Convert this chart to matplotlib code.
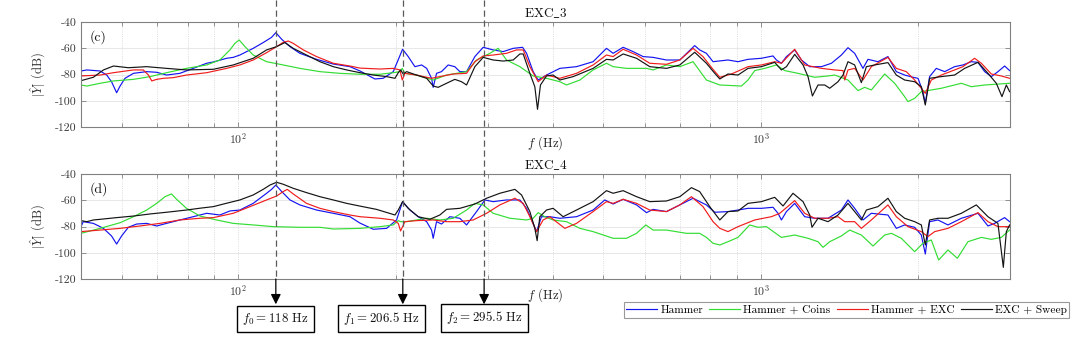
import matplotlib
matplotlib.use("Agg")
import matplotlib.pyplot as plt
from matplotlib.lines import Line2D
from matplotlib.ticker import FixedLocator, NullFormatter

plt.rcParams['font.family'] = ['cmr10', 'DejaVu Serif']
plt.rcParams['mathtext.fontset'] = 'cm'
plt.rcParams['axes.formatter.use_mathtext'] = True
plt.rcParams['axes.unicode_minus'] = False

# ---------------- data ----------------
series_labels = ['Hammer', 'Hammer + Coins', 'Hammer + EXC', 'EXC + Sweep']
panel_titles = [r'$\mathrm{EXC\_3}$', r'$\mathrm{EXC\_4}$']
panel_tags = ['(c)', '(d)']
mode_freqs = [118, 206.5, 295.5]
mode_labels = [r'$f_0 = 118$ Hz', r'$f_1 = 206.5$ Hz', r'$f_2 = 295.5$ Hz']
ytick_vals = [-120, -100, -80, -60, -40]
ytick_labels = ['-120', '-100', '-80', '-60', '-40']
xtick_vals = [100, 1000]
xtick_labels = [r'$10^2$', r'$10^3$']
xminor_vals = [50, 60, 70, 80, 90, 200, 300, 400, 500, 600, 700, 800, 900, 2000, 3000]

# Panel (c) EXC_3
c_hammer_f = [50, 51.3, 54.4, 56, 57.2, 58.5, 59.4, 60.7, 63, 66.8,
              69.8, 72.9, 77.3, 82, 87, 89.6, 95, 97.8, 100.7, 106.8,
              111.6, 115.8, 118, 121.1, 125.6, 131.2, 141.2, 152, 163.6, 171,
              182.6, 189.4, 198, 206.3, 211.5, 217.8, 224.4, 229.4, 234.4, 236.1,
              239.6, 244.9, 252.2, 259.7, 265.5, 273.5, 283.7, 294.3, 307.5, 321.4,
              335.9, 350.1, 356.3, 366.8, 375, 389, 412.6, 444, 477.7, 506.7,
              521.8, 545.3, 569.8, 595.5, 622.3, 660, 700, 747.5, 764, 787,
              810.5, 865.6, 904.8, 945.5, 1003, 1055.6, 1071.5, 1095.4, 1120, 1161.5,
              1196.4, 1241, 1306.7, 1365.6, 1427, 1469, 1512.8, 1569.3, 1604.3, 1676.5,
              1751.9, 1817.9, 1885.7, 1956, 2000, 2044, 2065, 2105, 2168, 2249,
              2350, 2438, 2529, 2605, 2683, 2763, 2845, 2930, 2995]
c_hammer_db = [-77.2, -76.4, -77.2, -80.3, -85.4, -93.8, -88.7, -82.8, -79, -77.7,
               -78.2, -80.3, -79, -75.2, -71.3, -70.3, -67.5, -66.8, -65, -59.9,
               -55.5, -51.5, -47.9, -53, -58.6, -63.7, -68.3, -71.9, -73.9, -77.2,
               -83.3, -82.8, -77.7, -60.6, -66.2, -73.9, -72.6, -75.2, -82.8, -89.7,
               -79, -77.7, -72.6, -73.9, -77.7, -77.7, -66.2, -59.1, -61.1, -62.4,
               -59.9, -59.1, -63.7, -77.7, -84.1, -80.3, -75.2, -73.9, -70.1, -59.9,
               -63.7, -59.1, -62.4, -66.2, -66.8, -68.8, -68.8, -57.8, -61.1, -63.7,
               -70.1, -68.8, -70.1, -68.3, -67.5, -65.7, -68.8, -71.3, -66.2, -61.1,
               -68.8, -73.9, -73.9, -71.3, -65, -59.4, -63.7, -75.2, -68.3, -70.1,
               -66.2, -77.7, -80.3, -82, -82.8, -93, -101.9, -81.5, -75.2, -77.7,
               -73.9, -72.6, -70.1, -70.6, -77.7, -81.5, -77.7, -73.4, -76.9]

c_coins_f = [50, 51.3, 54.4, 57.7, 63, 67.8, 72.9, 79.6, 87, 92.2,
             96.4, 98.5, 100.4, 103, 106.8, 113.3, 121.9, 131.2, 143.3, 156.5,
             171, 186.7, 198, 203.9, 206, 208.4, 219.4, 236.1, 250.4, 273.5,
             285.8, 303.1, 314.4, 326.2, 345.9, 366.8, 389, 412.6, 424.9, 450.6,
             477.7, 506.7, 521.8, 553.5, 604.4, 622.3, 660, 700, 742.1, 787,
             835, 918.4, 945.5, 973.9, 1017.9, 1071.5, 1111.7, 1178.6, 1268.6, 1345.3,
             1385.5, 1469, 1535.5, 1581.3, 1628.3, 1726.8, 1804.6, 1885.7, 1913.4, 1970.6,
             2029.5, 2120.8, 2216.4, 2421.1, 2529.4, 2682.8, 2995]
c_coins_db = [-87.9, -88.7, -86.6, -84.8, -83.6, -81.5, -78.5, -75.2, -72.6, -68.8,
              -61.1, -56.1, -53.5, -58.6, -65, -70.1, -72.6, -75.2, -77.7, -79,
              -79.7, -79.7, -78.5, -77.7, -75.2, -79, -80.3, -84.1, -80.3, -77.7,
              -68.8, -63.7, -59.9, -68.8, -73.9, -81, -82.8, -85.4, -87.9, -84.1,
              -76.4, -71.3, -73.9, -75.2, -75.2, -76.4, -72.6, -73.9, -70.1, -84.1,
              -87.9, -88.7, -84.1, -76.9, -75.2, -72.6, -76.9, -79, -82, -81,
              -80.3, -84.1, -92.2, -89.7, -91.7, -79.5, -86.6, -96.8, -100.6, -98.1,
              -93, -91.7, -90.4, -86.6, -89.2, -87.9, -86.6]

c_exc_f = [50, 54.4, 57.7, 63, 65.8, 67.3, 68.3, 69.8, 71.9, 75.1,
           79.6, 87, 95, 100.7, 106.8, 113.3, 118.4, 121.9, 124.7, 127.4,
           133.2, 141.2, 152, 163.6, 171, 186.7, 198, 203.9, 206, 208.4,
           219.4, 234.4, 243.1, 257.8, 273.5, 283.7, 294.3, 307.5, 326.2, 340.9,
           351, 361.5, 375, 389, 412.6, 444, 477.7, 506.7, 521.8, 545.3,
           578.5, 613.2, 660, 700, 742.1, 775.3, 810.5, 835, 879, 945.5,
           1003, 1063.6, 1095.4, 1161.5, 1213.9, 1306.7, 1385.5, 1437.2, 1448, 1469,
           1512.8, 1569.3, 1628.3, 1751.9, 1817.9, 1899.6, 1970.6, 2065.4, 2120.8, 2216.4,
           2350, 2437.8, 2566.9, 2643.8, 2763, 2887.6, 2995]
c_exc_db = [-81, -80.3, -78.5, -76.4, -76.4, -80.3, -84.8, -83.6, -82.8, -82.3,
            -80.3, -78.5, -75.2, -72.6, -68.8, -63.2, -58.6, -55.3, -54.3, -56.1,
            -61.1, -66.2, -71.3, -73.4, -75, -75.7, -75.2, -76.4, -84.1, -79,
            -80.3, -82.8, -81.5, -79.5, -79, -70.1, -65.7, -65, -63.7, -61.1,
            -61.1, -73.9, -85.4, -80.3, -82.8, -79, -72.6, -65, -66.2, -60.6,
            -65, -71.3, -72.1, -68.8, -59.9, -66.2, -76, -82, -79.5, -73.9,
            -72.6, -70.1, -71.3, -60.6, -72.6, -75.2, -76.4, -76.9, -84.1, -76.4,
            -75.2, -84.1, -73.9, -66.8, -75.2, -77.7, -84.1, -94.3, -84.1, -80.3,
            -76.4, -73.9, -67.5, -71.3, -79.5, -81, -82.8]

c_sweep_f = [50, 52.8, 55.2, 57.7, 61.6, 66.8, 72.9, 79.6, 89.6, 97.8,
             106.8, 113.3, 118.4, 122.8, 127.4, 135.1, 143.3, 152, 161.2, 171,
             181.3, 192.3, 199.5, 202.4, 204.5, 206.9, 210, 219.4, 229.4, 236.1,
             241.3, 250.4, 259.7, 267.5, 273.5, 283.7, 294.3, 307.5, 321.4, 335.9,
             345.9, 351, 361.5, 369.5, 373.9, 378.8, 389, 400.5, 412.6, 437.5,
             477.7, 506.7, 521.8, 545.3, 578.5, 613.2, 660, 700, 747.5, 787,
             816.6, 835, 865.6, 904.8, 945.5, 1003, 1063.6, 1095.4, 1120, 1161.5,
             1205, 1231.7, 1255.8, 1287.2, 1325.7, 1355.3, 1405.8, 1437.2, 1469, 1512.8,
             1558.2, 1593, 1652.5, 1751.9, 1817.9, 1885.7, 1970.6, 2029.5, 2065.4, 2105,
             2216.4, 2350, 2456.5, 2605, 2722.4, 2824.4, 2895.6, 2952, 2995]
c_sweep_db = [-84.6, -82, -76.4, -73.4, -74.7, -73.9, -75.2, -76.4, -75.9, -72.6,
              -67.5, -61.1, -58.6, -55.5, -59.9, -65, -70.1, -73.9, -76.4, -78.5,
              -80.3, -81.5, -82.8, -78.5, -76.4, -79.5, -77.7, -80.3, -82.8, -88.7,
              -89.7, -86.6, -83.6, -85.4, -87.9, -73.9, -66.8, -68.8, -69.6, -68.8,
              -64.2, -64.2, -79, -89.2, -106.5, -87.9, -81, -80.3, -84.1, -81.5,
              -75.2, -68.3, -68.8, -64.2, -67.5, -73.9, -75.2, -72.6, -62.9, -71.3,
              -79, -83.3, -79.5, -80.3, -75.2, -73.9, -70.6, -76.4, -73.9, -64.5,
              -72.6, -81.5, -96.3, -87.9, -87.9, -90.4, -85.4, -80.3, -70.1, -72.6,
              -86.1, -73.9, -72.6, -70.8, -80.3, -84.1, -85.4, -89.2, -103.2, -82.8,
              -81.5, -80.3, -75.2, -70.6, -79, -86.6, -96.8, -87.9, -93]

# Panel (d) EXC_4
d_hammer_f = [50, 50.5, 52.8, 55.2, 57.2, 58.5, 59.8, 61.6, 63.9, 66.8,
              69.8, 72.9, 77.3, 82, 87, 92.2, 96.4, 100.7, 106.8, 113.3,
              115.8, 118, 121.1, 125.6, 131.2, 141.2, 152, 163.6, 171, 181.3,
              192.3, 200.9, 206.3, 213.1, 221, 229.4, 234.4, 236.1, 239.6, 244.9,
              254.1, 265.5, 273.5, 285.8, 296.5, 307.5, 326.2, 345.9, 356.3, 366.8,
              372.3, 380.5, 394.7, 412.6, 444, 477.7, 503, 521.8, 545.3, 578.5,
              604.4, 622.3, 660, 700, 742.1, 787, 816.6, 865.6, 904.8, 945.5,
              1003, 1055.6, 1079.2, 1095.4, 1120, 1161.5, 1213.9, 1268.6, 1345.3, 1427,
              1469, 1512.8, 1569.3, 1628.3, 1751.9, 1817.9, 1885.7, 1970.6, 2029.5, 2065.4,
              2105, 2183.8, 2282.3, 2421.1, 2605, 2722.4, 2803.6, 2929.5, 2995]
d_hammer_db = [-80, -76.2, -77.5, -81.3, -87.1, -93.3, -87.1, -80.5, -78, -77.5,
               -79.5, -77.5, -74.9, -72.4, -69.8, -71.1, -68, -67.3, -62.2, -54.5,
               -51.5, -48.2, -53.2, -59.6, -63.4, -67.3, -69.8, -72.4, -77.3, -82,
               -81.3, -74.9, -60.9, -67.3, -72.4, -76.2, -82.6, -88.9, -76.2, -78,
               -72.4, -73.6, -78.7, -68.5, -59.6, -60.9, -59.6, -59.6, -66, -77.5,
               -83.8, -72.4, -72.4, -73.6, -72.4, -67.3, -59.6, -62.7, -59.1, -63.4,
               -69.3, -66.8, -68.5, -63.4, -58.3, -63.4, -69, -68.5, -67.3, -66,
               -66, -65.2, -69.8, -74.9, -68.5, -62.2, -72.4, -73.6, -73.6, -67.3,
               -59.6, -66, -74.9, -69.8, -71.1, -81.3, -78.7, -80.5, -86.4, -100.9,
               -76.2, -74.9, -78.7, -73.6, -69.8, -79.5, -77.5, -73.1, -76.2]

d_coins_f = [50, 54.4, 59.4, 63, 66.8, 69.8, 72.4, 74.5, 76.2, 79.6,
             84.5, 90.9, 97.8, 106.8, 116.7, 131.2, 143.3, 152, 171, 186.7,
             198, 202.4, 204.5, 210, 229.4, 243.1, 257.8, 273.5, 283.7, 294.3,
             307.5, 331.1, 356.3, 366.8, 375, 386.1, 400.5, 424.9, 450.6, 477.7,
             521.8, 553.5, 578.5, 602.6, 622.3, 660, 720.7, 764, 787, 810.5,
             835, 865.6, 904.8, 952.5, 988, 1025.4, 1095.4, 1161.5, 1231.7, 1287.2,
             1316, 1355.3, 1427, 1480.2, 1558.2, 1640.3, 1726.8, 1778.3, 1858.5, 1970.6,
             2044.3, 2120.8, 2190.5, 2282.3, 2378.9, 2492.4, 2643.8, 2763, 2887.6, 2995]
d_coins_db = [-85.1, -81.3, -77, -72.4, -67.3, -62.2, -57.1, -55, -59.1, -66,
              -71.9, -74.9, -77.5, -78.7, -80, -80.5, -80.5, -81.8, -81.3, -80,
              -78.7, -75.4, -76.2, -76.2, -73.6, -74.9, -73.6, -67.3, -62.2, -63.4,
              -69.8, -73.6, -74.9, -73.6, -69.3, -72.4, -74.9, -76.2, -81.3, -83.8,
              -88.9, -88.9, -85.1, -78.7, -82.6, -82.6, -85.1, -85.1, -88.2, -92.7,
              -94, -91.5, -88.2, -78.7, -80.5, -80, -88.2, -86.4, -88.9, -91.5,
              -95.8, -91.5, -87.1, -82.6, -86.4, -94.8, -86.4, -85.1, -88.9, -99.1,
              -92.7, -90.2, -105.5, -97.8, -104.2, -91.5, -88.2, -89.7, -88.2, -82.6]

d_exc_f = [50, 54.4, 59.4, 64.8, 70.8, 77.3, 84.5, 89.6, 97.8, 105.3,
           113.3, 118.4, 121.9, 124.1, 127.4, 135.1, 143.3, 152, 163.6, 171,
           186.7, 198, 202.4, 204.5, 208.4, 219.4, 236.1, 250.4, 265.5, 281.6,
           298.7, 316.7, 338.4, 351, 361.5, 372.3, 383.2, 394.7, 421.7, 444,
           477.7, 506.7, 521.8, 545.3, 578.5, 613.2, 660, 700, 736.8, 775.3,
           810.5, 835, 865.6, 904.8, 973.9, 1048, 1087.5, 1161.5, 1213.9, 1268.6,
           1345.3, 1405.8, 1448, 1512.8, 1558.2, 1628.3, 1751.9, 1817.9, 1913.4, 2029.5,
           2089.3, 2152.3, 2282.3, 2421.1, 2605, 2722.4, 2844.5, 2995]
d_exc_db = [-83.8, -82.6, -81.3, -79.5, -77.5, -74.9, -73.6, -73.1, -69.8, -64.7,
            -59.6, -56.6, -53.2, -51.5, -55, -62.2, -66, -68.5, -71.1, -72.4,
            -73.6, -74.9, -77.5, -83.3, -76.2, -75.4, -74.9, -76.2, -76.2, -74.9,
            -69.8, -63.4, -58.3, -62.2, -72.4, -83.8, -74.9, -72.4, -81.3, -77.5,
            -68.5, -60.9, -62.2, -59.1, -62.2, -67.3, -68.5, -63.4, -57.1, -64.7,
            -76.2, -81.3, -83.8, -80, -74.9, -72.4, -69.8, -60.1, -69.8, -73.6,
            -73.6, -72.4, -76.2, -76.2, -81.3, -74.9, -63.4, -72.4, -80, -83.8,
            -87.6, -83.8, -81.3, -76.2, -69.3, -76.2, -80, -80]

d_sweep_f = [50, 51.3, 52.8, 54.4, 58.5, 63, 67.8, 72.9, 79.6, 84.5,
             89.6, 95, 100.7, 106.8, 111.6, 115, 118.4, 121.9, 127.4, 135.1,
             143.3, 152, 161.2, 171, 183.9, 199.5, 202.4, 206.3, 211.5, 221,
             232.6, 243.1, 250.4, 265.5, 283.7, 298.7, 316.7, 338.4, 348.5, 361.5,
             369.5, 373.3, 377.7, 389, 400.5, 418.6, 444, 477.7, 506.7, 521.8,
             545.3, 578.5, 613.2, 660, 700, 736.8, 764, 798.7, 816.6, 835,
             865.6, 904.8, 945.5, 1003, 1063.6, 1103.3, 1152.9, 1205, 1241, 1253.5,
             1287.2, 1345.3, 1405.8, 1469, 1512.8, 1558.2, 1593, 1676.5, 1751.9, 1817.9,
             1885.7, 1970.6, 2029.5, 2065.4, 2105, 2183.8, 2282.3, 2421.1, 2586, 2722.4,
             2844.5, 2913, 2952, 2995]
d_sweep_db = [-75.4, -76.2, -74.9, -74.4, -73.1, -71.9, -70.3, -69, -67.3, -65.9,
              -64.7, -62.1, -59.6, -55.8, -51.5, -48.2, -46.1, -47.6, -50.7, -54,
              -57.1, -59.6, -62.2, -64.3, -66.8, -71.1, -67.3, -60.9, -66, -72.4,
              -74.4, -71.1, -66.8, -66, -62.7, -58.3, -54.5, -51.5, -55.8, -68.5,
              -81.3, -90.7, -72.4, -67.3, -66, -72.4, -67.3, -60.9, -52.5, -54.5,
              -52.5, -57.1, -60.9, -60.4, -57.1, -50.2, -53.2, -64.7, -69.8, -74.9,
              -68.5, -68, -62.2, -60.9, -57.6, -64.2, -54.5, -60.9, -71.1, -80.5,
              -73.6, -76.2, -71.1, -62.2, -68.5, -74.9, -67.3, -64.7, -58.3, -68.5,
              -73.6, -76.2, -78.7, -94, -74.9, -73.6, -73.6, -69.8, -63.4, -72.4,
              -77.5, -111.1, -83.8, -78.7]

# ---------------- styling ----------------
colors = ['#1414f0', '#33dd33', '#f01c1c', '#141414']
LW = 0.85
spine_col = '#808080'
tick_col = '#3a3a3a'

fig = plt.figure(figsize=(10.75, 3.55), dpi=100)
fig.patch.set_facecolor('white')
W, H = 1075.0, 355.0
ax1 = fig.add_axes([81 / W, 1 - 127 / H, 929 / W, 104.7 / H])
ax2 = fig.add_axes([81 / W, 1 - 279 / H, 929 / W, 104.7 / H])

panels = [
    (ax1, [(c_hammer_f, c_hammer_db), (c_coins_f, c_coins_db),
           (c_exc_f, c_exc_db), (c_sweep_f, c_sweep_db)]),
    (ax2, [(d_hammer_f, d_hammer_db), (d_coins_f, d_coins_db),
           (d_exc_f, d_exc_db), (d_sweep_f, d_sweep_db)]),
]

for i, (ax, curves) in enumerate(panels):
    for (f, v), col, lab in zip(curves, colors, series_labels):
        ax.plot(f, v, color=col, lw=LW, label=lab, solid_joinstyle='round')
    ax.set_xscale('log')
    ax.set_xlim(50, 3000)
    ax.set_ylim(-120, -40)
    ax.set_yticks(ytick_vals)
    ax.set_yticklabels(ytick_labels)
    ax.xaxis.set_major_locator(FixedLocator(xtick_vals))
    ax.set_xticklabels(xtick_labels)
    ax.xaxis.set_minor_locator(FixedLocator(xminor_vals))
    ax.xaxis.set_minor_formatter(NullFormatter())
    ax.tick_params(which='both', direction='in', top=True, right=True,
                   color=spine_col, labelcolor=tick_col, labelsize=8.5, width=0.6)
    ax.tick_params(which='major', length=3.6, pad=3)
    ax.tick_params(which='minor', length=3.0)
    ax.grid(True, axis='y', which='major', color='#e4e4e4', lw=0.6, ls='-')
    ax.grid(True, axis='x', which='both', color='#d2d2d2', lw=0.6, ls=':')
    ax.set_axisbelow(True)
    for s in ax.spines.values():
        s.set_color(spine_col)
        s.set_linewidth(0.8)
    ax.set_title(panel_titles[i], fontsize=9.6, pad=4.0, color='#111111')
    ax.set_xlabel(r'$f$ (Hz)', fontsize=9.2, color='#222222')
    ax.xaxis.set_label_coords(0.5, -0.065)
    ax.xaxis.label.set_va('top')
    ax.set_ylabel(r'$|\hat{Y}|$ (dB)', fontsize=9.2, color='#333333')
    ax.yaxis.set_label_coords(-0.0355, 0.5)
    ax.text(0.009, 0.855, panel_tags[i], transform=ax.transAxes, fontsize=9.8,
            ha='left', va='center', color='#111111')

# dashed marker lines through both panels, arrows to labels
fig.canvas.draw()
inv = fig.transFigure.inverted()
y_bottom2 = ax2.get_position().y0
for fm in mode_freqs:
    xd = ax1.transData.transform((fm, -80))
    xf = inv.transform(xd)[0]
    fig.add_artist(Line2D([xf, xf], [1.0, y_bottom2], transform=fig.transFigure,
                          color='#5a5a5a', lw=0.9, ls=(0, (5, 3)), zorder=5))
    ax2.annotate('', xy=(fm, -0.2416), xycoords=('data', 'axes fraction'),
                 xytext=(fm, 0.0), textcoords=('data', 'axes fraction'),
                 arrowprops=dict(arrowstyle='-|>,head_length=0.6,head_width=0.3',
                                 color='black', lw=0.9, shrinkA=0, shrinkB=0),
                 annotation_clip=False)

box_centers = [(275.8, 318.9), (381.5, 318.5), (484.3, 318.0)]
for (bx, by), txt in zip(box_centers, mode_labels):
    fig.text(bx / W, 1 - by / H, txt, ha='center', va='center', fontsize=9.3,
             color='#111111',
             bbox=dict(boxstyle='square,pad=0.4', fc='white', ec='black', lw=1.0))

handles = [Line2D([], [], color=c, lw=LW) for c in colors]
leg = fig.legend(handles, series_labels, ncol=4, loc='center',
                 bbox_to_anchor=((626 + 1067) / 2 / W, 1 - 310 / H),
                 frameon=True, fancybox=False, fontsize=8.2, handlelength=2.7,
                 handletextpad=0.3, columnspacing=0.55, borderpad=0.22,
                 borderaxespad=0.0)
leg.get_frame().set_edgecolor(spine_col)
leg.get_frame().set_linewidth(0.8)

fig.savefig('out.png', dpi=100, facecolor='white')
